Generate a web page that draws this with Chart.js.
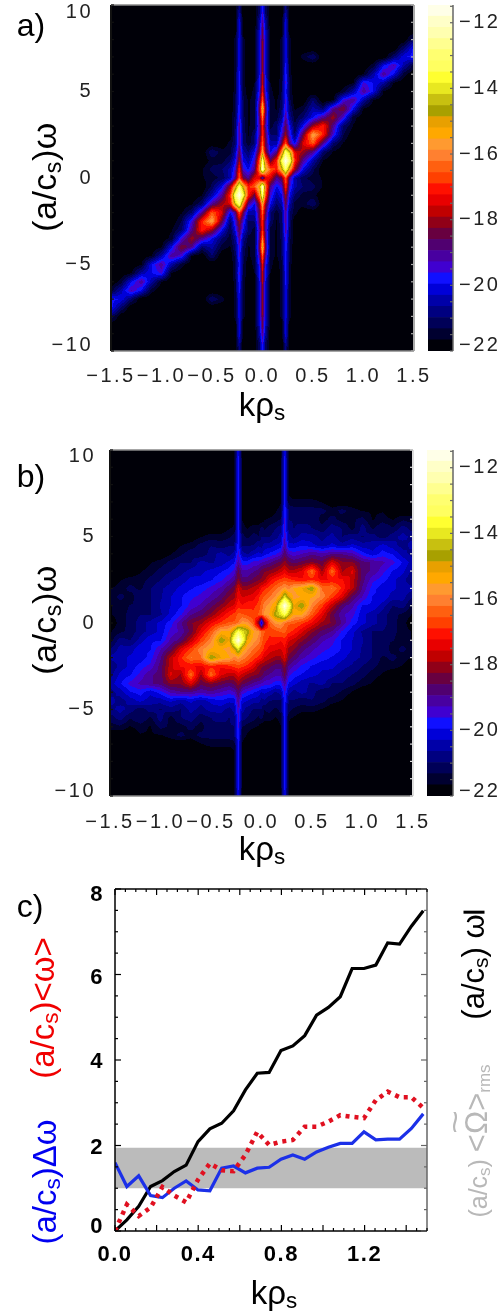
<!DOCTYPE html>
<html lang="en">
<head>
<meta charset="UTF-8">
<title>Frequency spectra</title>
<script src="https://cdn.jsdelivr.net/npm/chart.js"></script>
<style>
  html, body { margin: 0; background: #fff; }
  #page { position: relative; width: 504px; height: 1314px; overflow: hidden; font-family: "Liberation Sans", sans-serif; }
  canvas { position: absolute; left: 0; top: 0; }
  .t { position: absolute; white-space: nowrap; line-height: 1; transform: translate(-50%, -50%); }
  .r { transform: translate(-50%, -50%) rotate(-90deg); }
  sub { font-size: 0.68em; vertical-align: -0.22em; line-height: 0; }
  .om { position: relative; font-size: 31px; }
  .om i { position: absolute; left: 0; width: 100%; top: -0.62em; text-align: center; font-style: normal; transform: scaleX(1.3); }
</style>
</head>
<body>
<div id="page">
  <canvas id="heatA" width="504" height="1314"></canvas>
  <canvas id="barA" width="504" height="1314"></canvas>
  <canvas id="heatB" width="504" height="1314"></canvas>
  <canvas id="barB" width="504" height="1314"></canvas>
  <canvas id="lines" width="504" height="1314"></canvas>

  <div class="t" style="left:31px;top:25px;font-size:32px">a)</div>
  <div class="t" style="left:31px;top:476px;font-size:32px">b)</div>
  <div class="t" style="left:30px;top:906px;font-size:32px">c)</div>
  <div class="t r" style="left:44px;top:177px;font-size:34px;letter-spacing:.5px">(a/c<sub>s</sub>)ω</div>
  <div class="t r" style="left:44px;top:620px;font-size:34px;letter-spacing:.5px">(a/c<sub>s</sub>)ω</div>
  <div class="t" style="left:262px;top:404px;font-size:33px">kρ<sub>s</sub></div>
  <div class="t" style="left:262px;top:848px;font-size:33px">kρ<sub>s</sub></div>
  <div class="t" style="left:274px;top:1292px;font-size:33px">kρ<sub>s</sub></div>
  <div class="t r" style="left:42px;top:1008px;font-size:33px;color:#f00000">(a/c<sub>s</sub>)&lt;ω&gt;</div>
  <div class="t r" style="left:44px;top:1182px;font-size:33px;color:#0000f0">(a/c<sub>s</sub>)Δω</div>
  <div class="t r" style="left:473px;top:965px;font-size:31px">(a/c<sub>s</sub>) ω<span style="display:inline-block;width:3px;height:21px;background:#000;vertical-align:-1px;margin-left:1px"></span></div>
  <div class="t r" style="left:476px;top:1141px;font-size:25px;color:#b8b8b8">(a/c<sub>s</sub>) <span style="font-size:31px">&lt;</span><span class="om">Ω<i>~</i></span><span style="font-size:31px">&gt;</span><sub>rms</sub></div>
</div>
<script>
// k and omega positions of the spectrum samples, log10 power = floor + value
var kGrid = [-1.5,-1.4,-1.3,-1.2,-1.1,-1,-0.9,-0.8,-0.7,-0.6,-0.5,
  -0.4,-0.32,-0.27,-0.23,-0.19,-0.14,-0.08,-0.03,0,0.03,0.08,0.14,0.19,0.23,0.27,0.32,0.4,
  0.5,0.6,0.7,0.8,0.9,1,1.1,1.2,1.3,1.4,1.5];
var wGrid = [10,9.5,9,8.5,8,7.5,7,6.5,6,5.5,5,4.5,4,3.5,3,2.5,2,1.5,1,0.5,0,
  -0.5,-1,-1.5,-2,-2.5,-3,-3.5,-4,-4.5,-5,-5.5,-6,-6.5,-7,-7.5,-8,-8.5,-9,-9.5,-10];
var floorLevel = -22;

var spectrumA = [
[0,0,0,0,0,0,0,0,0,0,0, 0,0,0,1,0,0,0,1,2,1,0,0,0,1,0,0,0, 0,0,0,0,0,0,0,0,0,0,0],
[0,0,0,0,0,0,0,0,0,0,0, 0,0,0,1.5,0,0,0,1,2.5,1,0,0,0,1.5,0,0,0, 0,0,0,0,0,0,0,0,0,0,0],
[0,0,0,0,0,0,0,0,0,0,0, 0,0,0,2,0,0,0,1.5,3,1.5,0,0,0,2,0,0,0, 0,0,0,0,0,0,0,0,0,0,0],
[0,0,0,0,0,0,0,0,0,0,0, 0,0,0,2,0,0,0,1.7,3.5,1.7,0,0,0,2,0,0,0, 0,0,0,0,0,0,0,0,0,0,0],
[0,0,0,0,0,0,0,0,0,0,0, 0,0,.5,2,.5,0,0,1.8,3.7,1.8,0,0,.5,2,.5,0,0, 0,0,0,0,0,0,0,0,0,0,1],
[0,0,0,0,0,0,0,0,0,0,0, 0,0,.5,2,.5,0,0,1.8,3.9,1.8,0,0,.5,2,.5,0,0, 0,0,0,0,0,0,0,0,0,1,2.2],
[0,0,0,0,0,0,0,0,0,0,0, 0,0,.5,2,.5,0,0,1.9,4,1.9,0,0,.5,2,.5,0,.5, 1,0,0,0,0,0,0,0,1,2,2.2],
[0,0,0,0,0,0,0,0,0,0,0, 0,0,.5,2,.5,0,0,1.9,4,1.9,0,0,.5,2.2,.5,0,0, 0,0,0,0,0,0,.5,2,2.8,1.5,.5],
[0,0,0,0,0,0,0,0,0,0,0, 0,0,.5,2.2,.5,0,0,2,4.1,2,0,0,.5,2.4,.5,0,0, 0,0,0,0,0,.3,1.5,3,2,.5,0],
[0,0,0,0,0,0,0,0,0,0,0, 0,0,.5,2.2,.5,0,.3,2.2,4.3,2.2,.3,0,.7,2.5,.7,0,0, 0,0,0,0,.3,2.5,2,1.5,.3,0,0],
[0,0,0,0,0,0,0,0,0,0,0, 0,0,.5,2.2,.7,0,.5,2.4,4.7,2.4,.5,0,.7,2.3,.7,0,0, 0,0,0,.5,1.5,3,2,.3,0,0,0],
[0,0,0,0,0,0,0,0,0,0,0, 0,0,.7,2.3,.7,.3,.5,3,5.5,3,.5,.3,.8,2.5,.8,0,0, 1,0,.3,2.5,3,1.5,.3,0,0,0,0],
[0,0,0,0,0,0,0,0,0,0,0, 0,0,.7,2.4,.7,.3,.5,3.5,7,3.5,.5,.3,1,2.6,1,.3,.5, 1.5,1,3,3.8,2,.3,0,0,0,0,0],
[0,0,0,0,0,0,0,0,0,0,0, 0,0,.8,2.5,.8,.3,.5,3.2,5.8,3.2,.5,.5,1.3,3,1.3,.5,1, 2,3,4,2.5,.5,0,0,0,0,0,0],
[0,0,0,0,0,0,0,0,0,0,0, 0,0,.8,3,.8,.3,.5,3,5,3,.5,1,2,3.5,2,.7,2, 4,5,3,1,.3,0,0,0,0,0,0],
[0,0,0,0,0,0,0,0,0,0,0, 0,0,1,3,1,.3,1,3,5,3.5,1,1,2.5,4,2.5,1,3.5, 6.5,5,2.5,.7,0,0,0,0,0,0,0],
[0,0,0,0,0,0,0,0,0,0,0, 0,.5,1,3,1,.5,1,3.5,5.5,3.5,1.5,1.5,3.5,5.5,3,2,4.5, 5.5,3,1,.3,0,0,0,0,0,0,0],
[0,0,0,0,0,0,0,0,0,0,1, .5,.5,1.5,3.5,1.5,1,2,4,6.5,4,2,3,6,9,7.5,4.5,4, 3,1,.3,0,0,0,0,0,0,0,0],
[0,0,0,0,0,0,0,0,0,0,.5, .5,1,2,4,2,1.5,2.5,5.5,9,6,3.5,5,8.5,10.5,9,5,3, 1.5,.3,0,0,0,0,0,0,0,0,0],
[0,0,0,0,0,0,0,0,0,.3,.8, 1,1.5,2.5,5,2.5,2,3,6,10,7,5.5,5,7,9,6.5,4,2, .8,0,0,0,0,0,0,0,0,0,0],
[0,0,0,0,0,0,0,0,0,.3,.5, .8,1.5,3,5.5,3.5,3,4.5,4.5,2.5,4.5,4.5,3,3.5,5.5,3,1.5,.8, .5,.3,0,0,0,0,0,0,0,0,0],
[0,0,0,0,0,0,0,0,0,0,.8, 2,4,6.5,9,7,5,5.5,7,10,6,3,2,2.5,5,2.5,1.5,1, .8,.3,0,0,0,0,0,0,0,0,0],
[0,0,0,0,0,0,0,0,0,.3,1.5, 3,5,9,10.5,8.5,5,3.5,6,9,5.5,2.5,1.5,2,4,2,1,.5, .5,0,0,0,0,0,0,0,0,0,0],
[0,0,0,0,0,0,0,0,.3,1,3, 4,4.5,7.5,9,6,3,2,4,6.5,4,2,1,1.5,3.5,1.5,.5,.5, 1,0,0,0,0,0,0,0,0,0,0],
[0,0,0,0,0,0,0,.3,1,3,5.5, 4.5,2,3,5.5,3.5,1.5,1.5,3.5,5.5,3.5,1,.5,1,3,1,.5,0, 0,0,0,0,0,0,0,0,0,0,0],
[0,0,0,0,0,0,0,.7,2.5,5,6.5, 3.5,1,2.5,4,2.5,1,1,3.5,5,3,1,.3,1,3,1,0,0, 0,0,0,0,0,0,0,0,0,0,0],
[0,0,0,0,0,0,.3,1,3,5,4, 2,.7,2,3.5,2,1,.5,3,5,3,.5,.3,.8,3,.8,0,0, 0,0,0,0,0,0,0,0,0,0,0],
[0,0,0,0,0,0,.5,2.5,4,3,2, 1,.5,1.3,3,1.3,.5,.5,3.2,5.8,3.2,.5,.3,.8,2.5,.8,0,0, 0,0,0,0,0,0,0,0,0,0,0],
[0,0,0,0,0,.3,2,3.8,3,1,1.5, .5,.3,1,2.6,1,.3,.5,3.5,7,3.5,.5,.3,.7,2.4,.7,0,0, 0,0,0,0,0,0,0,0,0,0,0],
[0,0,0,0,.3,1.5,3,2.5,.3,0,1, 0,0,.8,2.5,.8,.3,.5,3,5.5,3,.5,.3,.7,2.3,.7,0,0, 0,0,0,0,0,0,0,0,0,0,0],
[0,0,0,.3,2,3,1.5,.5,0,0,0, 0,0,.7,2.3,.7,0,.5,2.4,4.7,2.4,.5,0,.7,2.2,.5,0,0, 0,0,0,0,0,0,0,0,0,0,0],
[0,0,.3,1.5,2,2.5,.3,0,0,0,0, 0,0,.7,2.5,.7,0,.3,2.2,4.3,2.2,.3,0,.5,2.2,.5,0,0, 0,0,0,0,0,0,0,0,0,0,0],
[0,.5,2,3,1.5,.3,0,0,0,0,0, 0,0,.5,2.4,.5,0,0,2,4.1,2,0,0,.5,2.2,.5,0,0, 0,0,0,0,0,0,0,0,0,0,0],
[.5,1.5,2.8,2,.5,0,0,0,0,0,0, 0,0,.5,2.2,.5,0,0,1.9,4,1.9,0,0,.5,2,.5,0,0, 0,0,0,0,0,0,0,0,0,0,0],
[2.2,2,1,0,0,0,0,0,0,0,1, .5,0,.5,2,.5,0,0,1.9,4,1.9,0,0,.5,2,.5,0,0, 0,0,0,0,0,0,0,0,0,0,0],
[2.2,1,0,0,0,0,0,0,0,0,0, 0,0,.5,2,.5,0,0,1.8,3.9,1.8,0,0,.5,2,.5,0,0, 0,0,0,0,0,0,0,0,0,0,0],
[1,0,0,0,0,0,0,0,0,0,0, 0,0,.5,2,.5,0,0,1.8,3.7,1.8,0,0,.5,2,.5,0,0, 0,0,0,0,0,0,0,0,0,0,0],
[0,0,0,0,0,0,0,0,0,0,0, 0,0,0,2,0,0,0,1.7,3.5,1.7,0,0,0,2,0,0,0, 0,0,0,0,0,0,0,0,0,0,0],
[0,0,0,0,0,0,0,0,0,0,0, 0,0,0,2,0,0,0,1.5,3,1.5,0,0,0,2,0,0,0, 0,0,0,0,0,0,0,0,0,0,0],
[0,0,0,0,0,0,0,0,0,0,0, 0,0,0,1.5,0,0,0,1,2.5,1,0,0,0,1.5,0,0,0, 0,0,0,0,0,0,0,0,0,0,0],
[0,0,0,0,0,0,0,0,0,0,0, 0,0,0,1,0,0,0,1,2,1,0,0,0,1,0,0,0, 0,0,0,0,0,0,0,0,0,0,0]
];

var spectrumB = [
[0,0,0,0,0,0,0,0,0,0,0, 0,0,.3,2,.3,0,0,0,0,0,0,0,.3,2,.3,0,0, 0,0,0,0,0,0,0,0,0,0,0],
[0,0,0,0,0,0,0,0,0,0,0, 0,0,.3,2.2,.3,0,0,0,0,0,0,0,.3,2.2,.3,0,0, 0,0,0,0,0,0,0,0,0,0,0],
[0,0,0,0,0,0,0,0,0,0,0, 0,0,.3,2.2,.3,0,0,0,0,0,0,0,.3,2.2,.3,0,0, 0,0,0,0,0,0,0,0,0,0,0],
[0,0,0,0,0,0,0,0,0,0,0, 0,0,.3,2.2,.3,0,0,0,0,0,0,0,.3,2.2,.3,0,0, 0,0,0,0,0,0,0,0,0,0,0],
[0,0,0,0,0,0,0,0,0,0,0, 0,0,.3,2.2,.3,0,0,0,0,0,0,0,.3,2.2,.3,0,0, 0,0,0,0,0,0,0,0,0,0,0],
[0,0,0,0,0,0,0,0,0,0,0, 0,0,.3,2.2,.3,0,0,0,0,0,0,0,.3,2.2,.3,0,0, 0,0,0,0,0,0,0,0,0,0,0],
[0,0,0,0,0,0,0,0,0,0,0, 0,0,.3,2.2,.3,0,0,0,0,0,0,0,.3,2.2,.5,.5,.5, .5,.3,0,0,0,0,0,0,0,0,0],
[0,0,0,0,0,0,0,0,0,0,0, 0,0,.3,2.2,.3,0,0,0,0,0,0,.3,.5,2.4,1,.8,.8, .8,.8,.5,.8,.5,.3,.3,.3,0,0,0],
[0,0,0,0,0,0,0,0,0,0,0, 0,0,.3,2.2,.3,0,0,0,0,.3,.4,.5,.7,2.5,1,1,.8, 1,.5,.8,.5,.6,.8,.3,.5,.3,.6,.5],
[0,0,0,0,0,0,0,0,0,0,0, 0,.3,.4,2.2,.5,.3,.5,.5,.8,.6,.8,1,1.2,2.5,1.2,1,1.2, 1,.8,1.2,1,.5,1.2,.6,1,.7,1.2,.8],
[0,0,0,0,0,0,0,0,0,.3,.5, .5,.6,.8,2.2,.8,.6,.8,.7,1,1,1,1.2,1.5,2.7,1.5,1.2,1.5, 1.5,1.2,1.5,1,1.2,1,1.2,.8,1.2,1.5,1.2],
[0,0,0,0,0,0,0,.3,.5,.8,1, .8,1,1,2.3,1,1,1,1.3,1.2,1.5,1.5,1.7,1.8,3,1.8,1.8,2, 1.8,1.5,1.8,1.5,1.8,1.5,1.5,1.8,1.5,1.2,1.5],
[0,0,0,0,0,0,.3,.6,.9,.7,1.2, 1.5,1.2,1.5,2.5,1.5,1.3,1.6,1.8,1.7,1.9,2.1,2.3,2.6,3.3,2.7,2.5,2.7, 3,2.8,3,3,2.8,2.2,1.8,2.2,2,1.5,1.2],
[0,0,0,0,.3,.5,.8,1,1,1.5,1.3, 1.5,1.8,2,2.9,2.2,2.2,2.5,2.5,2.7,2.8,3,3.3,3.5,3.9,3.5,3.3,3.5, 3.8,3.5,4.5,3.8,3.8,3.2,3,2.8,2.5,2,1.5],
[0,0,0,.3,.5,.8,1,1.2,1.5,1.6,1.8, 2,2.2,2.5,3.5,2.8,2.8,3,3.2,3.5,3.7,3.8,4,4.3,4.6,4.2,4.2,4.5, 5.7,4,5.7,4,4.5,3.2,3,2.5,2,1.8,1.2],
[0,.3,.5,.5,.8,1,1.3,1.5,1.8,1.8,2, 2.3,2.7,3,3.8,3.2,3.2,3.5,3.7,3.8,4,4.6,5,5.2,5.3,5.2,5,4.8, 5,4.7,4.8,4.8,4.3,3.2,2.5,2.2,1.8,1.5,1],
[.3,.5,.8,.6,1,1.3,1.5,1.8,2,2.2,2.5, 2.8,3.3,3.6,4.5,4,4,4.2,4.4,4.8,5,5.3,5.7,6,6.3,6,6.5,6.8, 7.5,5.7,5.8,5,4.2,3,2.2,1.8,1.8,1.5,1.5],
[.5,.8,.5,1,1,1.3,1.7,2,2.3,2.5,2.8, 3.2,3.8,4,4.7,4.4,4.5,4.6,5,5.3,5.5,5.8,6.2,6.8,8,7,6.3,6.5, 6.5,6,5.2,4.5,3.3,2.7,2,2,1.5,1.5,1],
[.3,.5,.7,.7,1,1.4,1.7,2,2.5,2.8,3.3, 3.8,4.3,4.5,5,4.8,5,5,5.2,5.6,6,6.3,6.8,8.8,10.5,9,6.8,7.5, 6,5.2,4.2,3.2,2.8,2,2,1.5,1,1.2,.5],
[.3,.5,.8,1,1,1.3,1.8,2.3,3,3.3,3.8, 4.5,5,5.2,5.5,5.5,5.3,5.2,5.5,5.7,6.2,6.5,7.5,8,8.7,7.5,6.5,6.5, 5.5,4.6,3.5,2.8,2.5,1.8,1.5,1.2,.8,.6,.3],
[0,.5,.8,1.2,1.5,1.8,2.2,3,3.7,4,4.7, 5.2,5.5,5.5,5.8,6.3,6.2,5.5,3.8,1.5,3.8,5.5,6.2,6.3,5.8,5.5,5.5,5.2, 4.7,4,3.7,3,2.2,1.8,1.5,1.2,.8,.5,0],
[.3,.6,.8,1.2,1.5,1.8,2.5,2.8,3.5,4.6,5.5, 6.5,6.5,7.5,8.7,8,7.5,6.5,6.2,5.7,5.5,5.2,5.3,5.5,5.5,5.2,5,4.5, 3.8,3.3,3,2.3,1.8,1.3,1,1,.8,.5,.3],
[.5,1.2,1,1.5,2,2,2.8,3.2,4.2,5.2,6, 7.5,6.8,9,10.5,8.8,6.8,6.3,6,5.6,5.2,5,5,4.8,5,4.5,4.3,3.8, 3.3,2.8,2.5,2,1.7,1.4,1,.7,.7,.5,.3],
[1,1.5,1.5,2,2,2.7,3.3,4.5,5.2,6,6.5, 6.5,6.3,7,8,6.8,6.2,5.8,5.5,5.3,5,4.6,4.5,4.4,4.7,4,3.8,3.2, 2.8,2.5,2.3,2,1.7,1.3,1,1,.5,.8,.5],
[1.5,1.5,1.8,1.8,2.2,3,4.2,5,5.8,5.7,7.5, 6.8,6.5,6,6.3,6,5.7,5.3,5,4.8,4.4,4.2,4,4,4.5,3.6,3.3,2.8, 2.5,2.2,2,1.8,1.5,1.3,1,.6,.8,.5,.3],
[1,1.5,1.8,2.2,2.5,3.2,4.3,4.8,4.8,4.7,5, 4.8,5,5.2,5.3,5.2,5,4.6,4,3.8,3.7,3.5,3.2,3.2,3.8,3,2.7,2.3, 2,1.8,1.8,1.5,1.3,1,.8,.5,.5,.3,0],
[1.2,1.8,2,2.5,3,3.2,4.5,4,5.7,4,5.7, 4.5,4.2,4.2,4.6,4.3,4,3.8,3.7,3.5,3.2,3,2.8,2.8,3.5,2.5,2.2,2, 1.8,1.6,1.5,1.2,1,.8,.5,.3,0,0,0],
[1.5,2,2.5,2.8,3,3.2,3.8,3.8,4.5,3.5,3.8, 3.5,3.3,3.5,3.9,3.5,3.3,3,2.8,2.7,2.5,2.5,2.2,2.2,2.9,2,1.8,1.5, 1.3,1.5,1,1,.8,.5,.3,0,0,0,0],
[1.2,1.5,2,2.2,1.8,2.2,2.8,3,3,2.8,3, 2.7,2.5,2.7,3.3,2.6,2.3,2.1,1.9,1.7,1.8,1.6,1.3,1.5,2.5,1.5,1.2,1.5, 1.2,.7,.9,.6,.3,0,0,0,0,0,0],
[1.5,1.2,1.5,1.8,1.5,1.5,1.8,1.5,1.8,1.5,1.8, 2,1.8,1.8,3,1.8,1.7,1.5,1.5,1.2,1.3,1,1,1,2.3,1,1,.8, 1,.8,.5,.3,0,0,0,0,0,0,0],
[1.2,1.5,1.2,.8,1.2,1,1.2,1,1.5,1.2,1.5, 1.5,1.2,1.5,2.7,1.5,1.2,1,1,1,.7,.8,.6,.8,2.2,.8,.6,.5, .5,.3,0,0,0,0,0,0,0,0,0],
[.8,1.2,.7,1,.6,1.2,.5,1,1.2,.8,1, 1.2,1,1.2,2.5,1.2,1,.8,.6,.8,.5,.5,.3,.5,2.2,.4,.3,0, 0,0,0,0,0,0,0,0,0,0,0],
[.5,.6,.3,.5,.3,.8,.6,.5,.8,.5,1, .8,1,1,2.5,.7,.5,.4,.3,0,0,0,0,.3,2.2,.3,0,0, 0,0,0,0,0,0,0,0,0,0,0],
[0,0,0,.3,.3,.3,.5,.8,.5,.8,.8, .8,.8,1,2.4,.5,.3,0,0,0,0,0,0,.3,2.2,.3,0,0, 0,0,0,0,0,0,0,0,0,0,0],
[0,0,0,0,0,0,0,0,0,.3,.5, .5,.5,.5,2.2,.3,0,0,0,0,0,0,0,.3,2.2,.3,0,0, 0,0,0,0,0,0,0,0,0,0,0],
[0,0,0,0,0,0,0,0,0,0,0, 0,0,.3,2.2,.3,0,0,0,0,0,0,0,.3,2.2,.3,0,0, 0,0,0,0,0,0,0,0,0,0,0],
[0,0,0,0,0,0,0,0,0,0,0, 0,0,.3,2.2,.3,0,0,0,0,0,0,0,.3,2.2,.3,0,0, 0,0,0,0,0,0,0,0,0,0,0],
[0,0,0,0,0,0,0,0,0,0,0, 0,0,.3,2.2,.3,0,0,0,0,0,0,0,.3,2.2,.3,0,0, 0,0,0,0,0,0,0,0,0,0,0],
[0,0,0,0,0,0,0,0,0,0,0, 0,0,.3,2.2,.3,0,0,0,0,0,0,0,.3,2.2,.3,0,0, 0,0,0,0,0,0,0,0,0,0,0],
[0,0,0,0,0,0,0,0,0,0,0, 0,0,.3,2.2,.3,0,0,0,0,0,0,0,.3,2.2,.3,0,0, 0,0,0,0,0,0,0,0,0,0,0],
[0,0,0,0,0,0,0,0,0,0,0, 0,0,.3,2,.3,0,0,0,0,0,0,0,.3,2,.3,0,0, 0,0,0,0,0,0,0,0,0,0,0]
];

// colour table, bottom band first
var levelEdges = [-22,-21.66,-21.32,-20.98,-20.64,-20.3,-19.96,-19.62,-19.28,-18.94,-18.6,-18.26,-17.92,-17.58,-17.24,-16.9,
  -16.56,-16.22,-15.88,-15.54,-15.2,-14.86,-14.52,-14.18,-13.84,-13.5,-13.16,-12.82,-12.48,-12.14,-11.8,-11.46];
var levelColors = ['#000008','#000030','#000058','#000080','#0000a8','#0000d8','#1010ff','#4000d0','#4800a0','#500070','#680040',
  '#900018','#c00000','#e80000','#ff1000','#ff4000','#ff6010','#ff8030','#ff9a30','#ffa800','#e8a000','#a8a000','#c8c010',
  '#e8e820','#ffff30','#ffff60','#ffff70','#ffff90','#ffffb0','#ffffc8','#ffffe8'];

// panel c
var kLine = [0,0.057,0.114,0.171,0.228,0.285,0.342,0.399,0.456,0.513,0.57,0.627,0.684,0.741,0.798,0.855,0.912,0.969,1.026,1.083,1.14,1.197,1.254,1.311,1.368,1.425,1.482];
var meanFreq = [0,0.26,0.58,1.04,1.18,1.39,1.54,2.09,2.39,2.52,2.81,3.3,3.69,3.71,4.22,4.33,4.57,5.05,5.23,5.48,6.14,6.14,6.22,6.74,6.71,7.13,7.49];
var widthFreq = [1.6,1.04,1.29,0.83,0.78,1,1.17,0.96,0.94,1.47,1.52,1.36,1.47,1.49,1.68,1.78,1.68,1.85,1.96,2.05,2.05,2.32,2.13,2.15,2.15,2.4,2.74];
var avgFreq = [0,0.62,0.35,0.55,1.03,0.83,0.67,1.2,1.58,1.42,1.4,1.78,2.32,2.01,2.09,2.13,2.44,2.44,2.56,2.71,2.67,2.64,3.06,3.26,3.13,3.13,2.88];
var bandK = [0,1.5];
var bandLow = [1,1];
var bandHigh = [1.95,1.95];

function hexRgb(h) { return [parseInt(h.slice(1,3),16), parseInt(h.slice(3,5),16), parseInt(h.slice(5,7),16)]; }
var levelRgb = levelColors.map(hexRgb);

function findCell(arr, v) {
  // arr is monotonic, either direction
  var asc = arr[1] > arr[0];
  for (var i = 0; i < arr.length - 2; i++) {
    if (asc ? v < arr[i+1] : v > arr[i+1]) return i;
  }
  return arr.length - 2;
}

function colourAt(level) {
  var i = 0;
  while (i < levelColors.length - 1 && level >= levelEdges[i+1]) i++;
  return levelRgb[i];
}

// filled contour of the sampled spectrum, placed through the chart scales
var contourPlugin = {
  id: 'contour',
  beforeDatasetsDraw: function(chart, args, opts) {
    var a = chart.chartArea, xs = chart.scales.x, ys = chart.scales.y, z = opts.grid;
    var w = Math.round(a.right - a.left), h = Math.round(a.bottom - a.top);
    var off = document.createElement('canvas');
    off.width = w; off.height = h;
    var octx = off.getContext('2d');
    var img = octx.createImageData(w, h);
    for (var py = 0; py < h; py++) {
      var om = ys.getValueForPixel(a.top + py + 0.5);
      var r = findCell(wGrid, om);
      var fy = (om - wGrid[r]) / (wGrid[r+1] - wGrid[r]);
      for (var px = 0; px < w; px++) {
        var k = xs.getValueForPixel(a.left + px + 0.5);
        var c = findCell(kGrid, k);
        var fx = (k - kGrid[c]) / (kGrid[c+1] - kGrid[c]);
        var v = (1-fy)*((1-fx)*z[r][c] + fx*z[r][c+1]) + fy*((1-fx)*z[r+1][c] + fx*z[r+1][c+1]);
        var col = colourAt(floorLevel + v);
        var o = (py*w + px)*4;
        img.data[o] = col[0]; img.data[o+1] = col[1]; img.data[o+2] = col[2]; img.data[o+3] = 255;
      }
    }
    octx.putImageData(img, 0, 0);
    var ctx = chart.ctx;
    ctx.save();
    ctx.beginPath(); ctx.rect(a.left, a.top, w, h); ctx.clip();
    ctx.fillStyle = '#000008'; ctx.fillRect(a.left, a.top, w, h);
    ctx.filter = 'blur(0.6px)';
    ctx.drawImage(off, a.left, a.top);
    ctx.restore();
  }
};

// IDL style frame: inward ticks and hand-placed tick labels
var framePlugin = {
  id: 'frame',
  afterDraw: function(chart, args, o) {
    var ctx = chart.ctx, a = chart.chartArea, xs = chart.scales.x, ys = chart.scales.y;
    ctx.save();
    ctx.lineCap = 'butt';
    function line(x1, y1, x2, y2, col, w) {
      ctx.strokeStyle = col; ctx.lineWidth = w;
      ctx.beginPath(); ctx.moveTo(x1, y1); ctx.lineTo(x2, y2); ctx.stroke();
    }
    if (o.left) line(a.left, a.top, a.left, a.bottom, o.left, o.leftW || 2);
    if (o.right) line(a.right, a.top, a.right, a.bottom, o.right, o.rightW || 2);
    if (o.top) line(a.left, a.top, a.right, a.top, o.top, o.topW || 1.5);
    if (o.bottom) line(a.left, a.bottom, a.right, a.bottom, o.bottom, o.bottomW || 1.5);
    ys.ticks.forEach(function(t) {
      var p = ys.getPixelForValue(t.value);
      var len = o.yMajor && o.yMajor(t.value) ? 6 : 3;
      if (o.left) line(a.left, p, a.left + len, p, o.left, 1.2);
      if (o.right) line(a.right, p, a.right - len, p, o.right, 1.2);
    });
    if (o.xTicks) xs.ticks.forEach(function(t) {
      var p = xs.getPixelForValue(t.value);
      var len = o.xMajor && o.xMajor(t.value) ? 6 : 3;
      line(p, a.bottom, p, a.bottom - len, o.bottom, 1.2);
      line(p, a.top, p, a.top + len, o.top, 1.2);
    });
    ctx.font = o.font;
    ctx.letterSpacing = o.spacing || '0px';
    ctx.fillStyle = o.color;
    ctx.textBaseline = 'middle';
    ctx.textAlign = o.yAlign || 'right';
    ys.ticks.forEach(function(t) {
      if (t.label === '' || t.label == null) return;
      var nudge = (o.yNudge && o.yNudge[t.value]) || 0;
      ctx.fillText(t.label, o.yLabelX, ys.getPixelForValue(t.value) + nudge);
    });
    if (o.xLabelY) {
      ctx.textAlign = 'center';
      xs.ticks.forEach(function(t) {
        if (t.label === '' || t.label == null) return;
        ctx.fillText(t.label, xs.getPixelForValue(t.value), o.xLabelY);
      });
    }
    ctx.restore();
  }
};

function signed(v, digits) {
  var s = Math.abs(v).toFixed(digits);
  return v < 0 ? '\u2212' + s : s;
}

function pad(left, top, right, bottom) {
  return { left: left, top: top, right: 504 - right, bottom: 1314 - bottom };
}
function noFit(s) { if (s.isHorizontal()) s.height = 0; else s.width = 0; }

function heatPanel(id, grid, left, top, right, bottom, yLabelX, xLabelY, nudge, rightCol) {
  new Chart(document.getElementById(id), {
    type: 'scatter',
    data: { datasets: [{ data: [] }] },
    plugins: [contourPlugin, framePlugin],
    options: {
      responsive: false, animation: false,
      layout: { padding: pad(left, top, right, bottom) },
      plugins: {
        legend: { display: false }, tooltip: { enabled: false },
        contour: { grid: grid },
        frame: { left: '#111', right: rightCol, top: '#888', bottom: '#888', font: '20px "Liberation Sans"', spacing: '2.5px',
          color: '#222', yLabelX: yLabelX, xLabelY: xLabelY, yNudge: nudge }
      },
      scales: {
        x: { type: 'linear', min: -1.5, max: 1.5, afterFit: noFit, grid: { display: false }, border: { display: false },
          ticks: { display: false, stepSize: 0.5, callback: function(v) { return signed(v, 1); } } },
        y: { type: 'linear', min: -10, max: 10, afterFit: noFit, grid: { display: false }, border: { display: false },
          ticks: { display: false, stepSize: 1, callback: function(v) { return v % 5 === 0 ? signed(v, 0) : ''; } } }
      }
    }
  });
}

function colourBar(id, left, top, right, bottom, nudge) {
  var sets = levelColors.map(function(col, i) {
    return { data: [[levelEdges[i], levelEdges[i+1]]], backgroundColor: col, borderWidth: 0, barPercentage: 1, categoryPercentage: 1 };
  });
  new Chart(document.getElementById(id), {
    type: 'bar',
    data: { labels: ['level'], datasets: sets },
    plugins: [framePlugin],
    options: {
      responsive: false, animation: false,
      layout: { padding: pad(left, top, right, bottom) },
      plugins: {
        legend: { display: false }, tooltip: { enabled: false },
        frame: { right: '#666', rightW: 1.5, font: '20px "Liberation Sans"', spacing: '2.5px', color: '#222',
          yAlign: 'left', yLabelX: 459, yNudge: nudge }
      },
      scales: {
        x: { stacked: true, afterFit: noFit, grid: { display: false }, border: { display: false }, ticks: { display: false } },
        y: { min: -22, max: -11.46, afterFit: noFit, grid: { display: false }, border: { display: false },
          ticks: { display: false, stepSize: 0.5, includeBounds: false, callback: function(v) { return v % 2 === 0 ? signed(v, 0) : ''; } } }
      }
    }
  });
}

function xy(xs, ys) { return xs.map(function(x, i) { return { x: x, y: ys[i] }; }); }

heatPanel('heatA', spectrumA, 111, 5, 414, 351, 93, 376, { 10: 7, '-10': -6 }, '#aaa');
colourBar('barA', 428, 5, 453, 351, { '-22': -6 });
heatPanel('heatB', spectrumB, 110, 450, 413, 796, 96, 822, { 10: 6, '-10': -5 }, '#ddd');
colourBar('barB', 427, 450, 453, 796, { '-22': -5 });

new Chart(document.getElementById('lines'), {
  type: 'scatter',
  data: { datasets: [
    { data: xy(bandK, bandHigh), showLine: true, borderWidth: 0, pointRadius: 0, fill: '+1', backgroundColor: '#bbbbbb', order: 5 },
    { data: xy(bandK, bandLow), showLine: true, borderWidth: 0, pointRadius: 0, order: 6 },
    { data: xy(kLine, meanFreq), showLine: true, borderColor: '#000', borderWidth: 3.2, pointRadius: 0, order: 3 },
    { data: xy(kLine, widthFreq), showLine: true, borderColor: '#1c30e8', borderWidth: 3.2, pointRadius: 0, order: 2 },
    { data: xy(kLine, avgFreq), showLine: true, borderColor: '#e01020', borderWidth: 4.5, borderDash: [4, 5], pointRadius: 0, order: 1 }
  ] },
  plugins: [framePlugin],
  options: {
    responsive: false, animation: false,
    layout: { padding: pad(115, 889, 427, 1231) },
    plugins: {
      legend: { display: false }, tooltip: { enabled: false },
      frame: { left: '#000', right: '#666', top: '#000', bottom: '#000', leftW: 1.5, rightW: 1.5, xTicks: true,
        yMajor: function(v) { return v % 2 === 0; },
        xMajor: function(v) { return Math.abs(v / 0.2 - Math.round(v / 0.2)) < 1e-6; },
        font: 'bold 22px "Liberation Sans"', spacing: '1.5px', color: '#000', yLabelX: 104, xLabelY: 1255,
        yNudge: { 8: 6, 6: 3, 4: 2, 2: 2, 0: -4 } }
    },
    scales: {
      x: { type: 'linear', min: 0, max: 1.5, afterFit: noFit, grid: { display: false }, border: { display: false },
        ticks: { display: false, stepSize: 0.05, callback: function(v) {
          return Math.abs(v / 0.4 - Math.round(v / 0.4)) < 1e-6 ? v.toFixed(1) : ''; } } },
      y: { type: 'linear', min: 0, max: 8, afterFit: noFit, grid: { display: false }, border: { display: false },
        ticks: { display: false, stepSize: 0.5, callback: function(v) { return v % 2 === 0 ? String(v) : ''; } } }
    }
  }
});
</script>
</body>
</html>
